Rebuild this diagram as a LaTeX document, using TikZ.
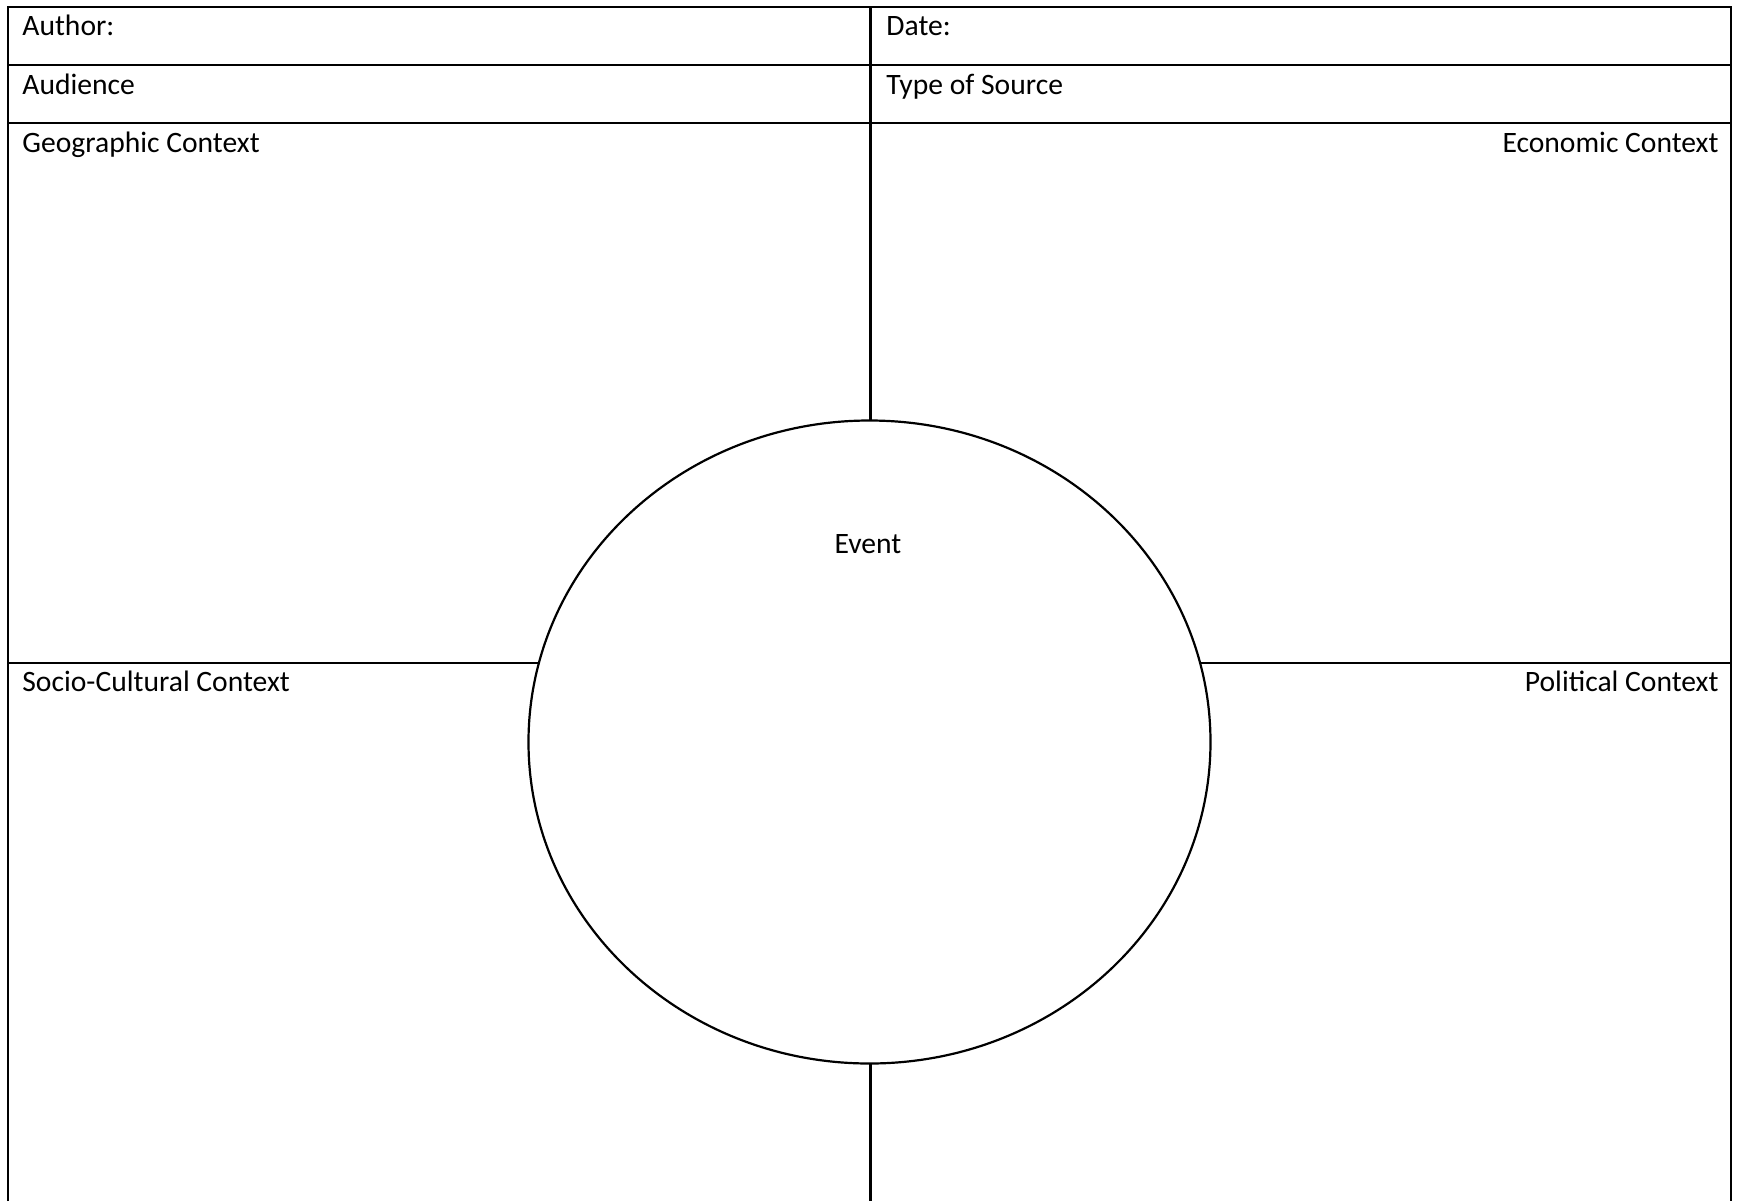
\documentclass[tikz,border=0pt]{standalone}
\usepackage{fontspec}
\setmainfont{Carlito}
\usepackage{xcolor}
\usepackage{tikz}
\usetikzlibrary{positioning,calc,shapes.geometric}
\definecolor{SheetInk}{HTML}{000000}
\newcommand{\celllabel}[4]{%
  \node[anchor=#4,inner sep=0pt,font=\fontsize{14.8}{17}\selectfont] (#1) at #2 {#3};}

\begin{document}
\begin{tikzpicture}[x=0.5pt,y=-0.5pt,
    rule/.style={draw=SheetInk,line width=1.1pt}]
  \useasboundingbox (0,0) rectangle (1737,1201);
  % frame and header rows
  \coordinate (tl) at (8,7);
  \coordinate (tr) at (1731,7);
  \coordinate (bl) at (8,1201);
  \coordinate (br) at (1731,1201);
  \coordinate (midtop) at (870.5,7);
  \coordinate (midbot) at (870.5,1201);
  \coordinate (crossl) at (8,663);
  \coordinate (crossr) at (1731,663);
  \draw[rule] (bl) -- (tl) -- (tr) -- (br);
  \draw[rule] (8,65) -- (1731,65);
  \draw[rule] (8,123) -- (1731,123);
  \draw[rule] (midtop) -- (midbot);
  \draw[rule] (crossl) -- (crossr);
  % the event circle sits over the cross
  \node[ellipse,rule,fill=white,inner sep=0pt,
        minimum width=341pt,minimum height=321.5pt] (event) at (869.5,742) {};
  % labels
  \celllabel{author}{(22,35)}{Author:}{base west}
  \celllabel{date}{(886,35)}{Date:}{base west}
  \celllabel{audience}{(22,94)}{Audience}{base west}
  \celllabel{source}{(886,94)}{Type of Source}{base west}
  \celllabel{geo}{(22,152)}{Geographic Context}{base west}
  \celllabel{econ}{(1719,152)}{Economic Context}{base east}
  \celllabel{socio}{(22,691)}{Socio-Cultural Context}{base west}
  \celllabel{polit}{(1719,691)}{Political Context}{base east}
  \celllabel{eventlabel}{(868,553)}{Event}{base}
\end{tikzpicture}
\end{document}
